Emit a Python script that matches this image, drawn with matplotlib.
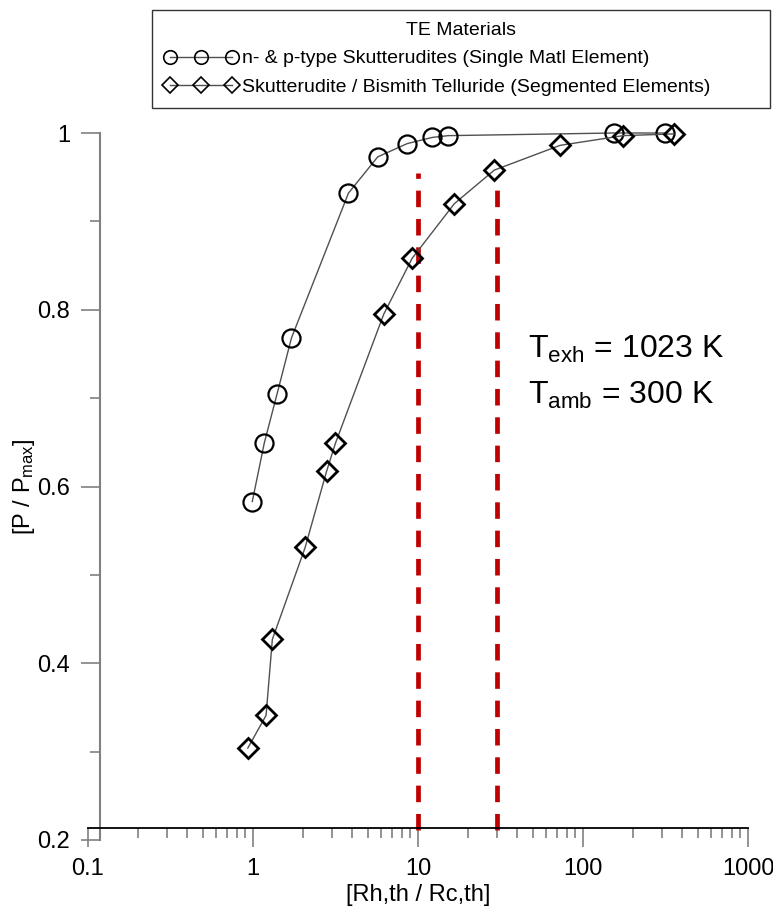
import matplotlib
matplotlib.use("Agg")
import matplotlib.pyplot as plt
from matplotlib.ticker import FixedLocator, LogLocator, NullFormatter, FuncFormatter

plt.rcParams["font.family"] = ["Liberation Sans", "DejaVu Sans"]
plt.rcParams["mathtext.fontset"] = "custom"
plt.rcParams["mathtext.rm"] = "Liberation Sans"
plt.rcParams["mathtext.it"] = "Liberation Sans:italic"
plt.rcParams["mathtext.bf"] = "Liberation Sans:bold"

# Single material element (circles)
single_x = [0.99, 1.17, 1.40, 1.71, 3.79, 5.7, 8.6, 12.2, 15.2, 154, 312]
single_y = [0.583, 0.649, 0.705, 0.768, 0.932, 0.973, 0.988, 0.995, 0.997, 1.0, 1.0]

# Segmented elements (diamonds)
seg_x = [0.93, 1.2, 1.31, 2.07, 2.79, 3.16, 6.2, 9.2, 16.6, 29, 72.5, 175, 355]
seg_y = [0.304, 0.341, 0.427, 0.531, 0.617, 0.649, 0.795, 0.858, 0.920, 0.958,
         0.986, 0.997, 0.999]

# Red reference lines
ref_x = [10, 30]
ref_top = [0.955, 0.939]

legend_title = "TE Materials"
single_label = "n- & p-type Skutterudites (Single Matl Element)"
seg_label = "Skutterudite / Bismith Telluride (Segmented Elements)"

W, H = 773, 914
fig = plt.figure(figsize=(W / 100, H / 100), dpi=100)
ax = fig.add_axes([88 / W, 1 - 840 / H, (748 - 88) / W, (840 - 133) / H])

ax.set_xscale("log")
ax.set_xlim(0.1, 1000)
ax.set_ylim(0.2, 1.0)

line_kw = dict(color="#505050", lw=1.0, mec="black", mfc="none", clip_on=False, zorder=3)
h1, = ax.plot(single_x, single_y, marker="o", ms=13, mew=1.6, label=single_label, **line_kw)
h2, = ax.plot(seg_x, seg_y, marker="D", ms=10.5, mew=2.0, label=seg_label, **line_kw)

for xv, yt in zip(ref_x, ref_top):
    ax.plot([xv, xv], [0.211, yt], color="#c00000", lw=3.4, dashes=(3.5, 2.5),
            solid_capstyle="butt", dash_capstyle="butt", zorder=2)

# axes styling: spines crossing a bit inside the corner
for s in ["top", "right"]:
    ax.spines[s].set_visible(False)
ax.spines["left"].set_position(("data", 0.118))
ax.spines["left"].set_bounds(0.2, 1.0)
ax.spines["left"].set_color("#808080")
ax.spines["left"].set_linewidth(1.5)
ax.spines["bottom"].set_position(("data", 0.2136))
ax.spines["bottom"].set_bounds(0.1, 1000)
ax.spines["bottom"].set_color("black")
ax.spines["bottom"].set_linewidth(1.3)

ax.xaxis.set_major_locator(FixedLocator([0.1, 1, 10, 100, 1000]))
ax.xaxis.set_major_formatter(FuncFormatter(lambda v, p: f"{v:g}"))
ax.xaxis.set_minor_locator(LogLocator(base=10, subs=range(2, 10)))
ax.xaxis.set_minor_formatter(NullFormatter())
ax.yaxis.set_major_locator(FixedLocator([0.2, 0.4, 0.6, 0.8, 1.0]))
ax.yaxis.set_major_formatter(FuncFormatter(lambda v, p: f"{v:g}"))
ax.yaxis.set_minor_locator(FixedLocator([0.3, 0.5, 0.7, 0.9]))

ax.tick_params(which="major", length=13.5, width=1.2, color="#808080",
               labelsize=17, direction="out")
ax.tick_params(which="minor", length=7, width=1.2, color="#808080", direction="out")
ax.tick_params(axis="x", which="major", pad=8)
ax.tick_params(axis="y", which="major", pad=8)

ax.set_xlabel("[Rh,th / Rc,th]", fontsize=17, va="center")
ax.xaxis.set_label_coords(0.5, (840 - 895) / 707)
ax.set_ylabel(r"[P / P$_{\mathrm{max}}$]", fontsize=17, va="center")
ax.yaxis.set_label_coords((24 - 88) / 660, 0.5)

fig.text(528 / W, 1 - 358 / H, r"T$_{\mathrm{exh}}$ = 1023 K", fontsize=23, va="baseline")
fig.text(528 / W, 1 - 404 / H, r"T$_{\mathrm{amb}}$ = 300 K", fontsize=23, va="baseline")

leg = fig.legend(handles=[h1, h2], title=legend_title, loc="upper left",
                 bbox_to_anchor=(152 / W, 1 - 107 / H, (770 - 152) / W, 97 / H),
                 mode="expand", numpoints=3, fontsize=14, title_fontsize=14,
                 markerscale=0.75, frameon=True, fancybox=False,
                 handlelength=3.8, handletextpad=0.2,
                 labelspacing=0.55, borderpad=0.62, borderaxespad=0)
leg.get_frame().set_edgecolor("black")
leg.get_frame().set_linewidth(1.0)
for lh in leg.legend_handles:
    lh.set_markeredgewidth(1.2)

fig.savefig("out.png", dpi=100)
